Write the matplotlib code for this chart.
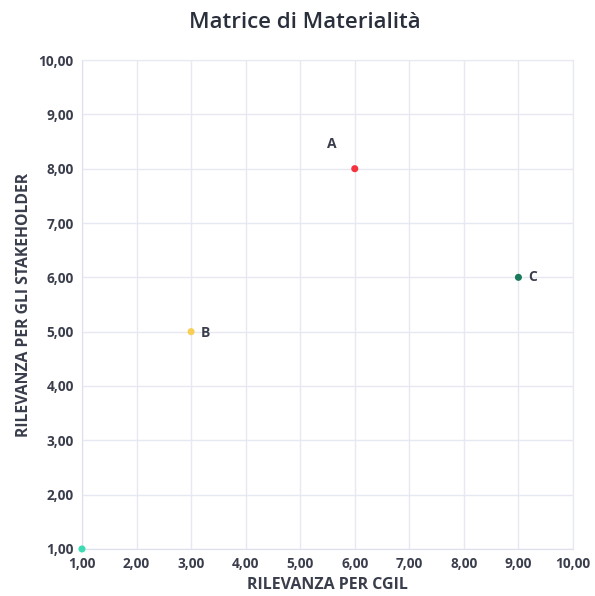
import matplotlib
matplotlib.use("Agg")
import matplotlib.pyplot as plt
from matplotlib.ticker import FuncFormatter

labels = ["", "A", "B", "C"]
x_vals = [1, 6, 3, 9]
y_vals = [1, 8, 5, 6]
colors = ["#3ddbb4", "#f5333f", "#f8ce55", "#1b7a5a"]
label_offsets = [(0, 0), (-20, 18), (7, -1), (7, 0)]
ticks = [1, 2, 3, 4, 5, 6, 7, 8, 9, 10]

text_color = "#3a3e4c"
plt.rcParams["font.family"] = ["Open Sans", "DejaVu Sans"]

fig = plt.figure(figsize=(5.95, 5.96), dpi=100)
ax = fig.add_axes([0.1378, 0.0789, 0.8252, 0.8204])

ax.scatter(x_vals, y_vals, s=26, c=colors, zorder=3, linewidths=0, clip_on=False)
for lab, xv, yv, off in zip(labels, x_vals, y_vals, label_offsets):
    if lab:
        ax.annotate(lab, (xv, yv), xytext=off, textcoords="offset points",
                    fontsize=10, fontweight="bold", color=text_color,
                    ha="left", va="center")

ax.set_xlim(1, 10)
ax.set_ylim(1, 10)
ax.set_xticks(ticks)
ax.set_yticks(ticks)
fmt = FuncFormatter(lambda v, p: f"{v:.2f}".replace(".", ","))
ax.xaxis.set_major_formatter(fmt)
ax.yaxis.set_major_formatter(fmt)
ax.grid(True, color="#e6e8f2", linewidth=1)
ax.set_axisbelow(True)
for s in ax.spines.values():
    s.set_color("#e6e8f2")
ax.spines["left"].set_color("#dcdfee")
ax.spines["bottom"].set_color("#dcdfee")
ax.tick_params(length=0, pad=6, labelsize=9.8, labelcolor=text_color)
for t in ax.get_xticklabels() + ax.get_yticklabels():
    t.set_fontweight("bold")

ax.set_xlabel("RILEVANZA PER CGIL", fontsize=11.5, fontweight="bold", color=text_color, labelpad=4)
ax.set_ylabel("RILEVANZA PER GLI STAKEHOLDER", fontsize=11.3, fontweight="bold", color=text_color, labelpad=5)
fig.suptitle("Matrice di Materialità", x=0.512, y=0.98, fontsize=16, fontweight="semibold", color="#2a2f3c")

fig.savefig("out.png", dpi=100, facecolor="white")
